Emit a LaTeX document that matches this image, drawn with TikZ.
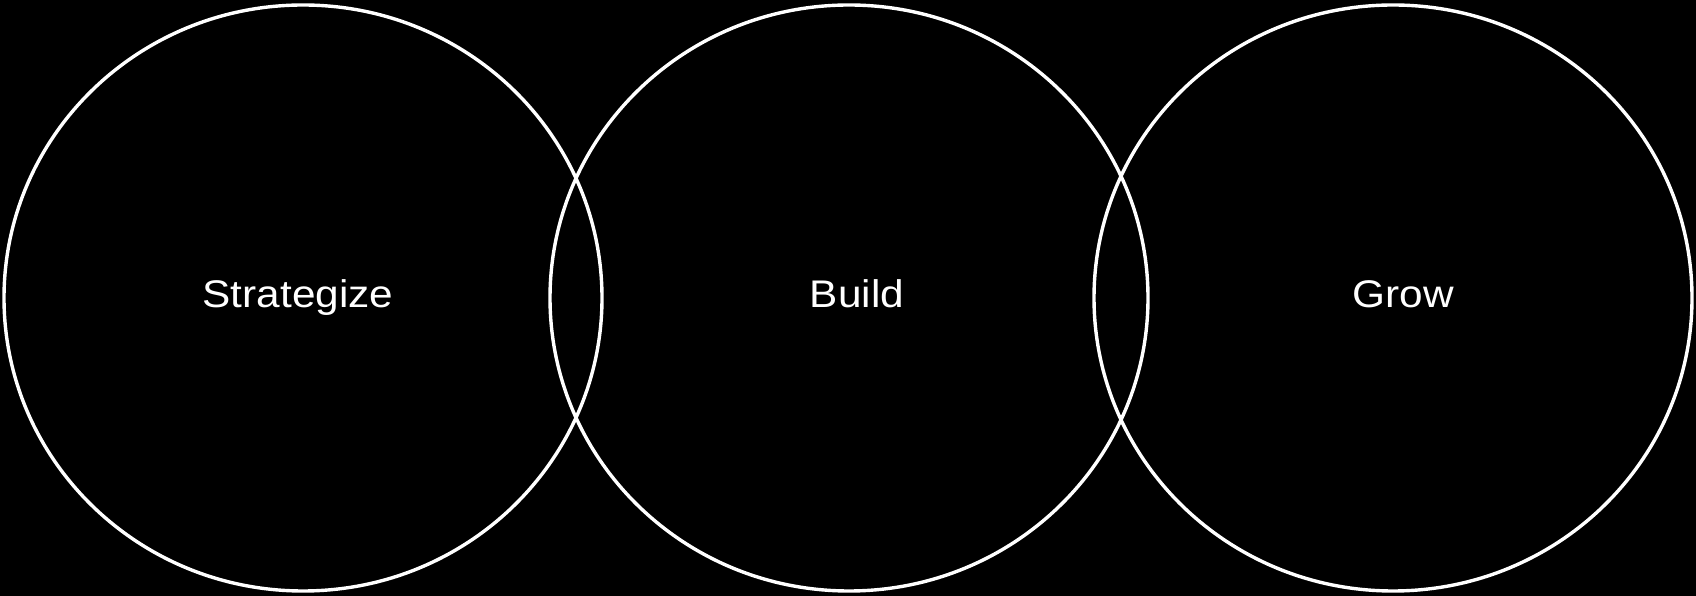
\documentclass[tikz,border=0pt]{standalone}
\usepackage{fontspec}
\setmainfont{Liberation Sans}
\newfontfamily\ringfont[FakeStretch=1.1]{Liberation Sans}
\usepackage{tikz}
\usetikzlibrary{shapes.geometric}

\begin{document}
\begin{tikzpicture}[
    x=1pt,y=1pt,
    ring/.style={draw=white,ellipse,line width=3.4pt,minimum width=598pt,minimum height=586pt,inner sep=0pt},
    label/.style={text=white,anchor=base,font=\ringfont\fontsize{38.5}{46}\selectfont}
]
\fill[black] (0,0) rectangle (1696,596);
\useasboundingbox (0,0) rectangle (1696,596);
\node[ring] (strat) at (303,298) {};
\node[ring] (build) at (849,298) {};
\node[ring] (grow) at (1393,298) {};
\node[label] (stratlabel) at (298,288) {Strategize};
\node[label] (buildlabel) at (857,288) {Build};
\node[label] (growlabel) at (1403,288) {Grow};
\end{tikzpicture}
\end{document}
